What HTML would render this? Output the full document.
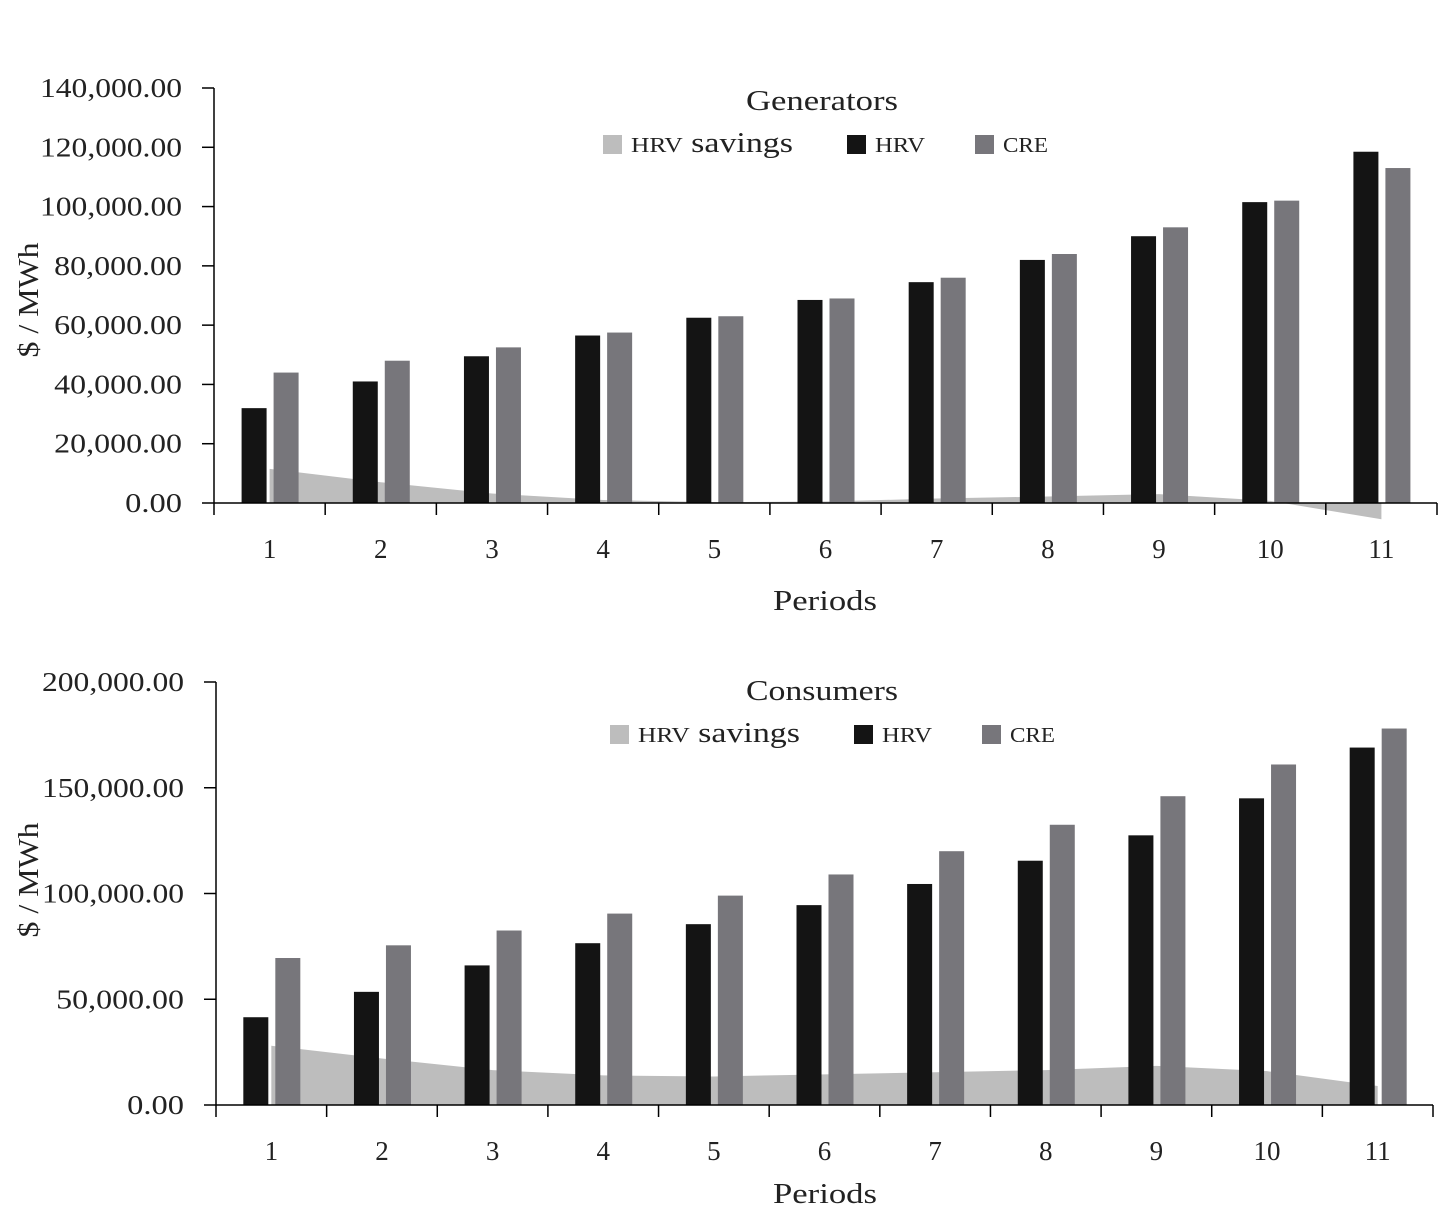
<!DOCTYPE html>
<html><head><meta charset="utf-8"><style>
body{margin:0;background:#fff}
svg{display:block;font-family:"Liberation Serif",serif}
</style></head><body>
<svg id="c" width="1441" height="1205" xmlns="http://www.w3.org/2000/svg"></svg>
<script>
const categories=["1","2","3","4","5","6","7","8","9","10","11"];
const genHRV=[32000,41000,49500,56500,62500,68500,74500,82000,90000,101500,118500];
const genCRE=[44000,48000,52500,57500,63000,69000,76000,84000,93000,102000,113000];
const genSavings=[11500,7000,3200,1000,300,500,1500,2200,3000,700,-5500];
const genTicks=[0,20000,40000,60000,80000,100000,120000,140000];
const conHRV=[41500,53500,66000,76500,85500,94500,104500,115500,127500,145000,169000];
const conCRE=[69500,75500,82500,90500,99000,109000,120000,132500,146000,161000,178000];
const conSavings=[28000,22000,16500,14000,13500,14500,15500,16500,18500,16000,9000];
const conTicks=[0,50000,100000,150000,200000];

const svg=document.getElementById('c');
const NS="http://www.w3.org/2000/svg";
function mk(tag,attrs,parent){const e=document.createElementNS(NS,tag);for(const k in attrs)e.setAttribute(k,attrs[k]);(parent||svg).appendChild(e);return e;}
function fmt(v){return v.toLocaleString('en-US',{minimumFractionDigits:2,maximumFractionDigits:2});}

function chart(o){
  const g=mk('g',{});
  
  
  const n=categories.length, cw=(o.x1-o.x0)/n;
  const y=v=>o.y0-(v/o.max)*(o.y0-o.yTop);
  const cx=i=>o.x0+cw*(i+0.5);
  let pts=`${cx(0)},${y(0)} `;
  o.sav.forEach((v,i)=>pts+=`${cx(i)},${y(v)} `);
  pts+=`${cx(n-1)},${y(0)}`;
  const area=mk('polygon',{points:pts,fill:'#bdbdbd'},g);
  
  
  categories.forEach((c,i)=>{
    const b1=mk('rect',{x:cx(i)-28,y:y(o.hrv[i]),width:25,height:y(0)-y(o.hrv[i]),fill:'#141414'},g);
    
    
    const b2=mk('rect',{x:cx(i)+4,y:y(o.cre[i]),width:25,height:y(0)-y(o.cre[i]),fill:'#77767b'},g);
    
    
  });
  const ya=mk('line',{x1:o.x0,y1:o.yTop,x2:o.x0,y2:o.y0,stroke:'#000','stroke-width':1.5},g);
  
  
  const xa=mk('line',{x1:o.x0,y1:o.y0,x2:o.x1,y2:o.y0,stroke:'#000','stroke-width':1.5},g);
  
  
  o.ticks.forEach(t=>{
    mk('line',{x1:o.x0-12,y1:y(t),x2:o.x0,y2:y(t),stroke:'#000','stroke-width':1.5},g);
    const s=fmt(t);
    const tl=mk('text',{x:o.x0-32,y:y(t)+9,'text-anchor':'end','font-size':27,fill:'#222',textLength:s.length*14.2,lengthAdjust:'spacingAndGlyphs'},g);
    tl.textContent=s;
    
    
  });
  for(let i=0;i<=n;i++) mk('line',{x1:o.x0+cw*i,y1:o.y0,x2:o.x0+cw*i,y2:o.y0+12,stroke:'#000','stroke-width':1.5},g);
  categories.forEach((c,i)=>{
    const tl=mk('text',{x:cx(i),y:o.y0+55,'text-anchor':'middle','font-size':27,fill:'#222'},g);
    tl.textContent=c;
    
    
  });
  const xt=mk('text',{x:825,y:o.y0+o.xtOff,'text-anchor':'middle','font-size':29,fill:'#222',textLength:104,lengthAdjust:'spacingAndGlyphs'},g);
  xt.textContent='Periods';
  
  
  const yt=mk('text',{x:0,y:0,'text-anchor':'middle','font-size':29,fill:'#222',textLength:115,lengthAdjust:'spacingAndGlyphs',transform:`translate(38,${o.yTitle}) rotate(-90)`},g);
  yt.textContent='$ / MWh';
  
  
  const tt=mk('text',{x:o.titleX,y:o.titleY,'text-anchor':'middle','font-size':29,fill:'#222',textLength:152,lengthAdjust:'spacingAndGlyphs'},g);
  tt.textContent=o.title;
  
  
  const L=o.legX, ly=o.titleY+42;
  const items=[[0,'#bdbdbd','HRV savings',162],[244,'#141414','HRV',50],[372,'#77767b','CRE',45]];
  items.forEach(it=>{
    const lg=mk('g',{},g);
    
    
    mk('rect',{x:L+it[0],y:ly-17,width:19,height:19,fill:it[1]},lg);
    const t=mk('text',{x:L+it[0]+28,y:ly,'font-size':28,fill:'#222',textLength:it[3],lengthAdjust:'spacingAndGlyphs'},lg);
    const parts=it[2].split(' ');
    const s=mk('tspan',{'font-size':21},t); s.textContent=parts[0];
    if(parts[1]){const s2=mk('tspan',{},t); s2.textContent=' '+parts[1];}
  });
}
chart({name:'generators-chart',x0:214,x1:1437,y0:503,yTop:88,max:140000,hrv:genHRV,cre:genCRE,sav:genSavings,ticks:genTicks,title:'Generators',titleX:822,titleY:110,legX:603,yTitle:300,xtOff:107});
chart({name:'consumers-chart',x0:216,x1:1433,y0:1105,yTop:682,max:200000,hrv:conHRV,cre:conCRE,sav:conSavings,ticks:conTicks,title:'Consumers',titleX:822,titleY:700,legX:610,yTitle:880,xtOff:98});
</script>
</body></html>
